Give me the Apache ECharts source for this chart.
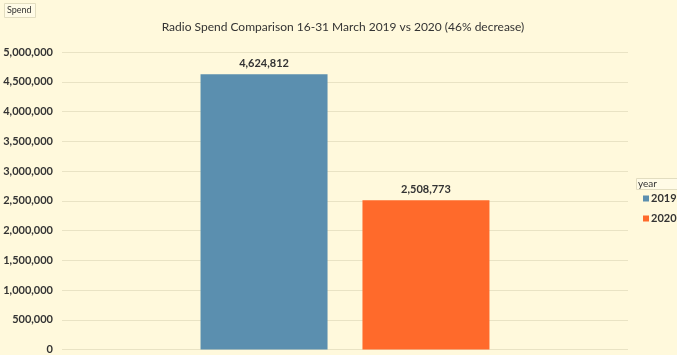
<!DOCTYPE html>
<html>
<head>
<meta charset="utf-8">
<script src="https://cdn.jsdelivr.net/npm/echarts@6/dist/echarts.min.js"></script>
<style>
html,body{margin:0;padding:0;background:#FFF9DC;}
#c{width:677px;height:355px;}
</style>
</head>
<body>
<div id="c"></div>
<script>
const categories = ['Spend'];
const seriesNames = ['2019', '2020'];
const values2019 = [4624812];
const values2020 = [2508773];
const yTicks = [0, 500000, 1000000, 1500000, 2000000, 2500000, 3000000, 3500000, 4000000, 4500000, 5000000];

const colors = ['#5B8FAF', '#FF6A2B'];
const fmt = v => Number(v).toLocaleString('en-US');
const font = 'Lato, "Open Sans", sans-serif';

const chart = echarts.init(document.getElementById('c'));
chart.setOption({
  backgroundColor: '#FFF9DC',
  animation: false,
  textStyle: {fontFamily: font},
  title: {
    text: 'Radio Spend Comparison 16-31 March 2019 vs 2020 (46% decrease)',
    left: 343, top: 21, textAlign: 'center', padding: 0,
    textStyle: {fontSize: 12, fontWeight: 'normal', color: '#333', fontFamily: font}
  },
  grid: {left: 62, right: 49, top: 52, bottom: 4, containLabel: false},
  legend: {
    orient: 'vertical', left: 643, top: 193, padding: 0, itemWidth: 6, itemHeight: 6, itemGap: 9,
    icon: 'rect',
    textStyle: {fontSize: 11, fontWeight: 'bold', color: '#333', fontFamily: font, padding: [0, 0, 0, -3]},
    data: seriesNames
  },
  graphic: [
    {type: 'rect', shape: {x: 4.5, y: 3.5, width: 31, height: 14},
     style: {fill: '#FFFBE6', stroke: '#E2DDC0', lineWidth: 1}},
    {type: 'text', x: 7, y: 6, style: {text: 'Spend', fontSize: 9, fill: '#333', fontFamily: font}},
    {type: 'rect', shape: {x: 636.5, y: 178.5, width: 45, height: 11},
     style: {fill: '#FFFBE6', stroke: '#E2DDC0', lineWidth: 1}},
    {type: 'text', x: 638, y: 179, style: {text: 'year', fontSize: 10, fill: '#333', fontFamily: font}}
  ],
  xAxis: {
    type: 'category', data: categories,
    axisLine: {show: false}, axisTick: {show: false}, axisLabel: {show: false}
  },
  yAxis: {
    type: 'value', min: yTicks[0], max: yTicks[yTicks.length - 1], interval: yTicks[1] - yTicks[0],
    axisLine: {show: false}, axisTick: {show: false},
    axisLabel: {formatter: fmt, fontSize: 11, fontWeight: 'bold', color: '#333', margin: 9, fontFamily: font},
    splitLine: {lineStyle: {color: '#E9E3C4', width: 1}}
  },
  series: [
    {name: seriesNames[0], type: 'bar', data: values2019, barWidth: 127, barGap: '27.5%',
     itemStyle: {color: colors[0]},
     label: {show: true, position: 'top', distance: 5, formatter: p => fmt(p.value),
             fontSize: 11, fontWeight: 'bold', color: '#333', fontFamily: font}},
    {name: seriesNames[1], type: 'bar', data: values2020, barWidth: 127,
     itemStyle: {color: colors[1]},
     label: {show: true, position: 'top', distance: 5, formatter: p => fmt(p.value),
             fontSize: 11, fontWeight: 'bold', color: '#333', fontFamily: font}}
  ]
});
</script>
</body>
</html>
